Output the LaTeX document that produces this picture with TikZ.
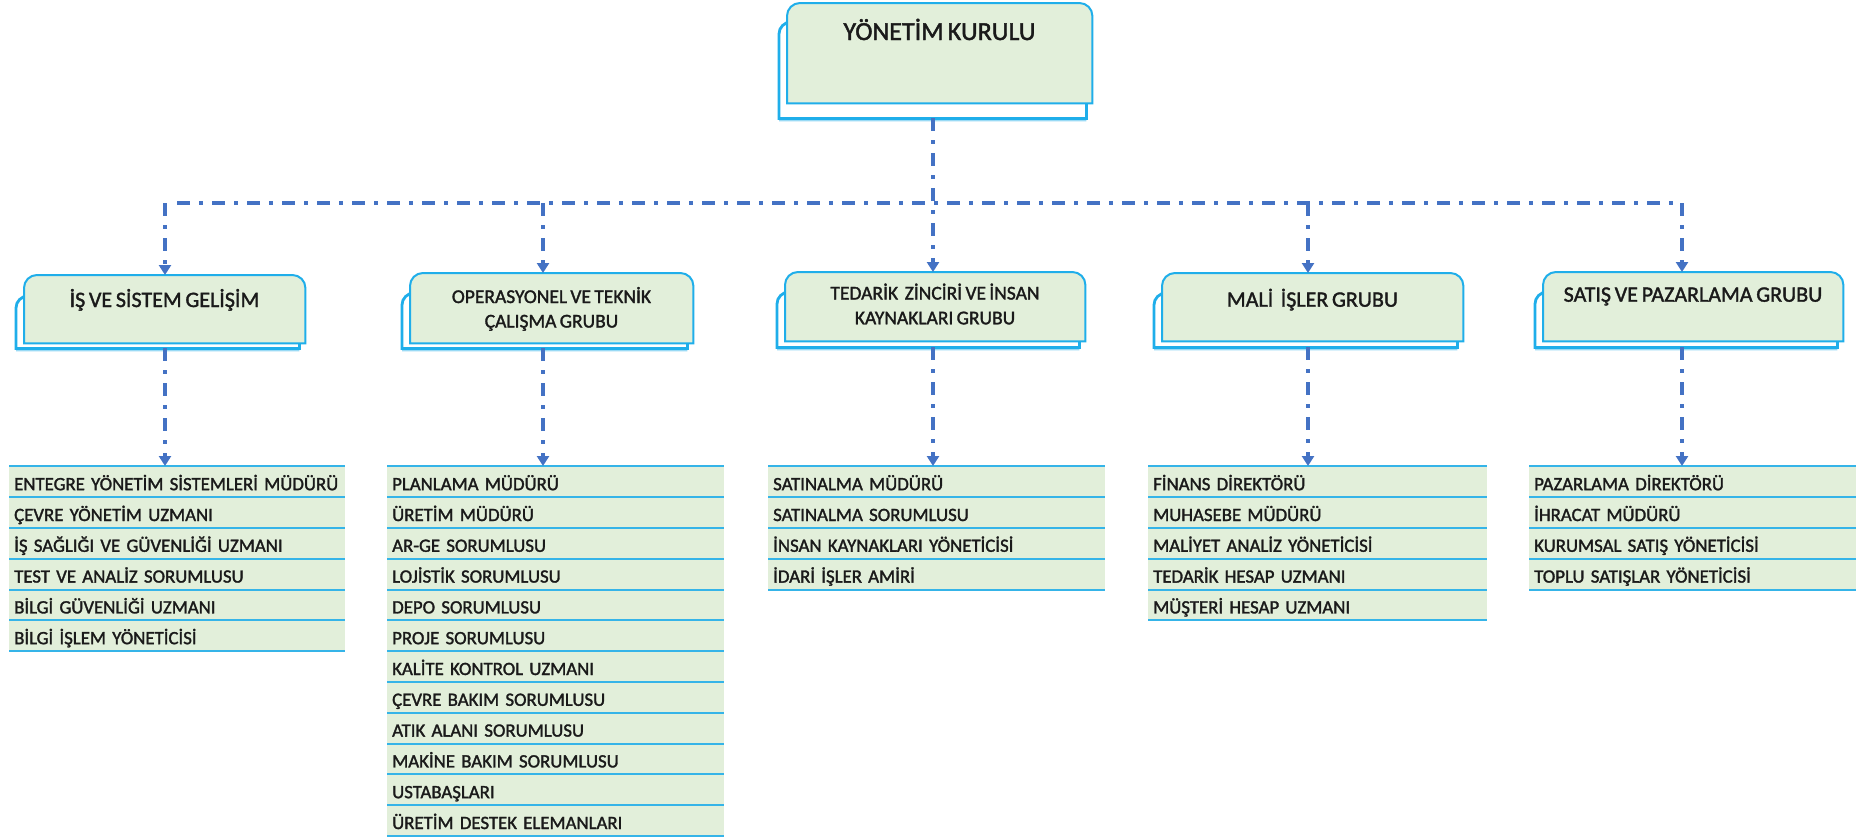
\documentclass[tikz,border=0pt]{standalone}
\usepackage{fontspec}
\setmainfont{Carlito}[RawFeature={embolden=1.6}, WordSpace=0.75]
\usetikzlibrary{arrows.meta,shadows}
\definecolor{frontfill}{HTML}{E2EFDA}
\definecolor{edge}{HTML}{1FAEEA}
\definecolor{connc}{HTML}{4472C4}
\definecolor{rowline}{HTML}{35B4E8}
\definecolor{txt}{HTML}{1A1A1A}
\tikzset{
  frontbox/.style={fill=frontfill, draw=edge, line width=2pt},
  backbox/.style={fill=white, draw=edge, line width=2.8pt,
    drop shadow={shadow xshift=0pt, shadow yshift=-3pt, fill=edge, opacity=0.45}},
  anchorbox/.style={draw=none, inner sep=0pt, anchor=north west},
  conn/.style={draw=connc, line width=3.4pt, dash pattern=on 13pt off 9pt on 4pt off 9pt},
  arr/.style={conn, -{Triangle[width=12pt,length=10pt]}},
  gtext/.style={anchor=base, text=txt, inner sep=0pt},
  row/.style={anchor=north west, fill=frontfill, minimum height=30.8pt, inner xsep=5pt,
    inner ysep=0pt, align=left, text height=19pt, text depth=1.8pt,
    font=\fontsize{18.8pt}{22pt}\selectfont, text=txt},
  rowsep/.style={draw=rowline, line width=2pt}
}
% #1 name, #2 x1, #3 y1, #4 x2, #5 y2, #6 back bottom offset, #7 back top offset
\newcommand\grp[7]{%
  \node[anchorbox, minimum width={(#4)-(#2)}, minimum height={(#5)-(#3)}] (#1) at (#2,-#3) {};
  \draw[backbox] ([shift={(-8pt,-#6pt)}]#1.south west) -- ([shift={(-8pt,-#7pt-12pt)}]#1.north west)
     arc[start angle=180,end angle=90,radius=12pt] -- ([shift={(-6pt,-#7pt)}]#1.north east)
     -- ([shift={(-6pt,-#6pt)}]#1.south east) -- cycle;
  \draw[frontbox] (#1.south west) -- ([yshift=-13pt]#1.north west)
     arc[start angle=180,end angle=90,radius=13pt] -- ([xshift=-13pt]#1.north east)
     arc[start angle=90,end angle=0,radius=13pt] -- (#1.south east) -- cycle;
  \coordinate (#1-bs) at ([yshift=-#6pt]#1.south);
}
% #1 name, #2 x, #3 width, #4 text width, #5 items
\newcommand\mklist[5]{%
  \foreach \t [count=\i] in {#5} {
    \node[row, text width=#4pt, minimum width=#3pt] (#1-\i) at (#2, {-466-(\i-1)*30.8}) {\t};
  }
  \foreach \t [count=\i] in {#5} {
    \draw[rowsep] (#1-\i.south west) -- (#1-\i.south east);
  }
  \draw[rowsep] (#1-1.north west) -- (#1-1.north east);
}
\begin{document}
\begin{tikzpicture}[x=1pt,y=1pt]
\useasboundingbox (0,-838) rectangle (1856,0);
\fill[white] (0,-838) rectangle (1856,0);

% top box
\grp{top}{787}{3}{1092}{103}{15}{19}
\node[gtext, font=\fontsize{26pt}{30pt}\selectfont] (topt) at (939.5,-40) {YÖNETİM KURULU};

% group boxes
\grp{g1}{24}{275}{305}{343}{5}{21}
\grp{g2}{410}{273}{693}{343}{5}{20}
\grp{g3}{785}{272}{1085}{341}{6}{20}
\grp{g4}{1162}{273}{1463}{341}{6}{20}
\grp{g5}{1543}{272}{1843}{341}{6}{20}

\node[gtext, font=\fontsize{22pt}{26pt}\selectfont] (g1t) at (164.5,-307) {İŞ VE SİSTEM GELİŞİM};
\node[gtext, font=\fontsize{19.5pt}{24.5pt}\selectfont] (g2t) at (551.5,-303)
  {\begin{tabular}[t]{@{}c@{}}OPERASYONEL VE TEKNİK\\ÇALIŞMA GRUBU\end{tabular}};
\node[gtext, font=\fontsize{19.5pt}{24.8pt}\selectfont] (g3t) at (935,-299.5)
  {\begin{tabular}[t]{@{}c@{}}TEDARİK \ ZİNCİRİ VE İNSAN\\KAYNAKLARI GRUBU\end{tabular}};
\node[gtext, font=\fontsize{22pt}{26pt}\selectfont] (g4t) at (1312.5,-306.7) {MALİ \ İŞLER GRUBU};
\node[gtext, font=\fontsize{22pt}{26pt}\selectfont] (g5t) at (1693,-301.7) {SATIŞ VE PAZARLAMA GRUBU};

% lists
\mklist{l1}{9}{336}{326}{ENTEGRE YÖNETİM SİSTEMLERİ MÜDÜRÜ,ÇEVRE YÖNETİM UZMANI,İŞ SAĞLIĞI VE GÜVENLİĞİ UZMANI,TEST VE ANALİZ SORUMLUSU,BİLGİ GÜVENLİĞİ UZMANI,BİLGİ İŞLEM YÖNETİCİSİ}
\mklist{l2}{387}{337}{327}{PLANLAMA MÜDÜRÜ,ÜRETİM MÜDÜRÜ,AR-GE SORUMLUSU,LOJİSTİK SORUMLUSU,DEPO SORUMLUSU,PROJE SORUMLUSU,KALİTE KONTROL UZMANI,ÇEVRE BAKIM SORUMLUSU,ATIK ALANI SORUMLUSU,MAKİNE BAKIM SORUMLUSU,USTABAŞLARI,ÜRETİM DESTEK ELEMANLARI}
\mklist{l3}{768}{337}{327}{SATINALMA MÜDÜRÜ,SATINALMA SORUMLUSU,İNSAN KAYNAKLARI YÖNETİCİSİ,İDARİ İŞLER AMİRİ}
\mklist{l4}{1148}{339}{329}{FİNANS DİREKTÖRÜ,MUHASEBE MÜDÜRÜ,MALİYET ANALİZ YÖNETİCİSİ,TEDARİK HESAP UZMANI,MÜŞTERİ HESAP UZMANI}
\mklist{l5}{1529}{327}{317}{PAZARLAMA DİREKTÖRÜ,İHRACAT MÜDÜRÜ,KURUMSAL SATIŞ YÖNETİCİSİ,TOPLU SATIŞLAR YÖNETİCİSİ}

% connectors
\coordinate (j1) at (165,-203);
\coordinate (j2) at (543,-203);
\coordinate (j3) at (933,-203);
\coordinate (j4) at (1308,-203);
\coordinate (j5) at (1682,-203);
\draw[conn] ([xshift=12pt]j1) -- ([xshift=-4pt]j5);
\draw[arr] (j3 |- top-bs) -- (j3 |- g3.north);
\foreach \k in {1,2,4,5} \draw[arr] (j\k) -- (j\k |- g\k.north);
\foreach \k in {1,...,5} \draw[arr] (j\k |- g\k-bs) -- (j\k |- l\k-1.north);
\end{tikzpicture}
\end{document}
